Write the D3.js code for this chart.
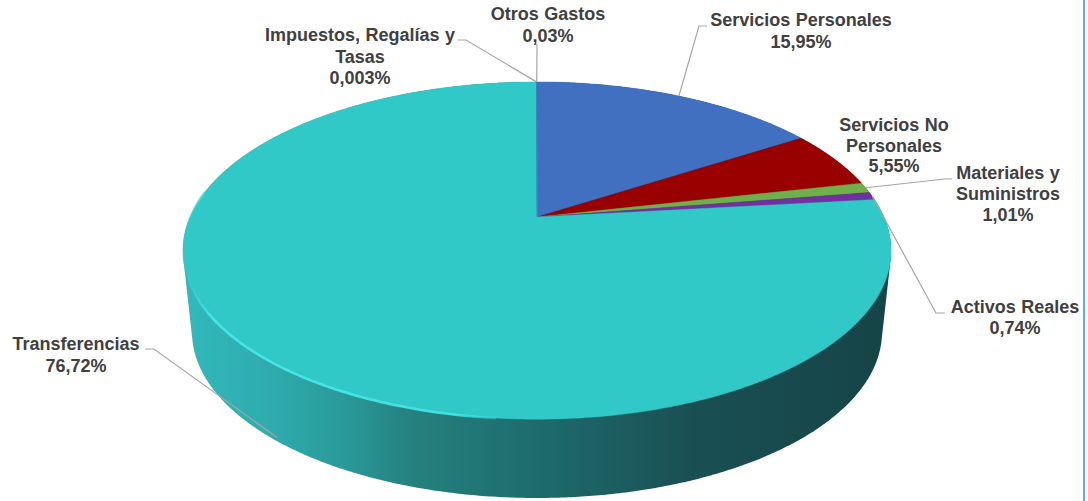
<!DOCTYPE html>
<html>
<head>
<meta charset="utf-8">
<script src="https://cdn.jsdelivr.net/npm/d3@7"></script>
<style>
  html, body { margin: 0; padding: 0; background: #fff; overflow: hidden; }
  text { font-family: "Liberation Sans", Arial, sans-serif; font-weight: bold; font-size: 18px; fill: #404040; word-spacing: 0.5px; }
</style>
</head>
<body>
<svg id="chart" width="1088" height="501"></svg>
<script>
// Chart data
const categories = ["Servicios Personales", "Servicios No Personales", "Materiales y Suministros", "Activos Reales", "Transferencias", "Impuestos, Regalías y Tasas", "Otros Gastos"];
const values = [15.95, 5.55, 1.01, 0.74, 76.72, 0.003, 0.03];
const valueLabels = ["15,95%", "5,55%", "1,01%", "0,74%", "76,72%", "0,003%", "0,03%"];
const labelLines = [["Servicios Personales"], ["Servicios No", "Personales"], ["Materiales y", "Suministros"], ["Activos Reales"], ["Transferencias"], ["Impuestos, Regalías y", "Tasas"], ["Otros Gastos"]];
const colors = ["#4070bf", "#990000", "#6fb04a", "#7030a0", "#31c8c8", "#31c8c8", "#4070bf"];

// Layout
const width = 1088, height = 501;
const cx = 537, cy = 217;        // where the slices meet
const R = 347, Ry = 162, k = 0.199; // tilted disc
const base = { cx: 537, cy: 332, rx: 345, ry: 166 };
const depth = 79;

// label centre x, first baseline, line height
const labelPos = [
    [801, 26, 22], [894, 131, 20.5], [1008, 179, 21], [1015, 313, 21],
    [76, 350, 22], [360, 41, 21.5], [548, 20, 22]
];
// elbow of each leader, null means no leader
const elbows = [
    [[699, 26], [707, 26]], null, [[945, 179], [952, 179]], [[936, 313], [945, 313]],
    [[154, 349], [145, 349]], [[466, 40], [458, 40]], [[537, 44]]
];

// angle is clockwise from 12 o'clock
function project(angle) {
    const u = Math.sin(angle), v = Math.cos(angle), w = 1 + k * v;
    return [cx + R * u / w, cy - Ry * v / w];
}

function arcPoints(a0, a1) {
    const n = Math.max(2, Math.ceil((a1 - a0) / 0.01));
    return d3.range(n + 1).map(i => project(a0 + (a1 - a0) * i / n));
}

const svg = d3.select("#chart");
const line = d3.line();
const slices = d3.pie().sort(null).value(d => d)(values);

// Side of the disc
const defs = svg.append("defs");
const grad = defs.append("linearGradient")
    .attr("id", "sideGrad")
    .attr("gradientUnits", "userSpaceOnUse")
    .attr("x1", 187).attr("x2", 891).attr("y1", 0).attr("y2", 0);
[[0, "#30b9bb"], [0.12, "#2fabad"], [0.22, "#2a9a9a"], [0.32, "#25817f"], [0.5, "#1e6b6c"], [0.72, "#194f53"], [1, "#164447"]]
    .forEach(s => grad.append("stop").attr("offset", s[0]).attr("stop-color", s[1]));

const topOutline = arcPoints(0, 2 * Math.PI);
const baseOutline = d3.range(0, 2 * Math.PI, 0.01)
    .map(t => [base.cx + base.rx * Math.cos(t), base.cy + base.ry * Math.sin(t)]);
const hull = d3.polygonHull(topOutline.concat(baseOutline));

svg.append("path")
    .attr("d", line(hull) + "Z")
    .attr("fill", "url(#sideGrad)");

// Top face
svg.append("g").selectAll("path")
    .data(slices)
    .join("path")
    .attr("d", d => line([[cx, cy]].concat(arcPoints(d.startAngle, d.endAngle))) + "Z")
    .attr("fill", (d, i) => colors[i])
    .attr("stroke", (d, i) => colors[i])
    .attr("stroke-width", 0.4);

// Light rim along the front left edge
const rimGrad = defs.append("linearGradient")
    .attr("id", "rimGrad")
    .attr("gradientUnits", "userSpaceOnUse")
    .attr("x1", 185).attr("x2", 520).attr("y1", 0).attr("y2", 0);
[[0, "#3fdede", 0], [0.08, "#45e6e6", 1], [0.8, "#45e6e6", 0.9], [1, "#45e6e6", 0]]
    .forEach(s => rimGrad.append("stop").attr("offset", s[0]).attr("stop-color", s[1]).attr("stop-opacity", s[2]));

svg.append("path")
    .attr("d", line(arcPoints(Math.PI * 1.03, Math.PI * 1.55)))
    .attr("fill", "none")
    .attr("stroke", "url(#rimGrad)")
    .attr("stroke-width", 2.6);

// Leader lines
svg.append("g").selectAll("path")
    .data(slices.filter((d, i) => elbows[i]))
    .join("path")
    .attr("d", d => {
        const mid = (d.startAngle + d.endAngle) / 2;
        let start = project(mid);
        if (categories[d.index] === "Transferencias") start = [start[0] + 12, start[1] + depth];
        return line([start].concat(elbows[d.index]));
    })
    .attr("fill", "none")
    .attr("stroke", "#a6a6a6")
    .attr("stroke-width", 1.2);

// Labels
const labels = svg.append("g").selectAll("text")
    .data(categories)
    .join("text")
    .attr("text-anchor", "middle");

labels.each(function (name, i) {
    const pos = labelPos[i];
    const lines = labelLines[i].concat(valueLabels[i]);
    d3.select(this).selectAll("tspan")
        .data(lines)
        .join("tspan")
        .attr("x", pos[0])
        .attr("y", (d, j) => pos[1] + j * pos[2])
        .text(d => d);
});

// Blue line on the right
svg.append("rect")
    .attr("x", 1083).attr("y", 0)
    .attr("width", 2).attr("height", height)
    .attr("fill", "#6aa9e9");
</script>
</body>
</html>
